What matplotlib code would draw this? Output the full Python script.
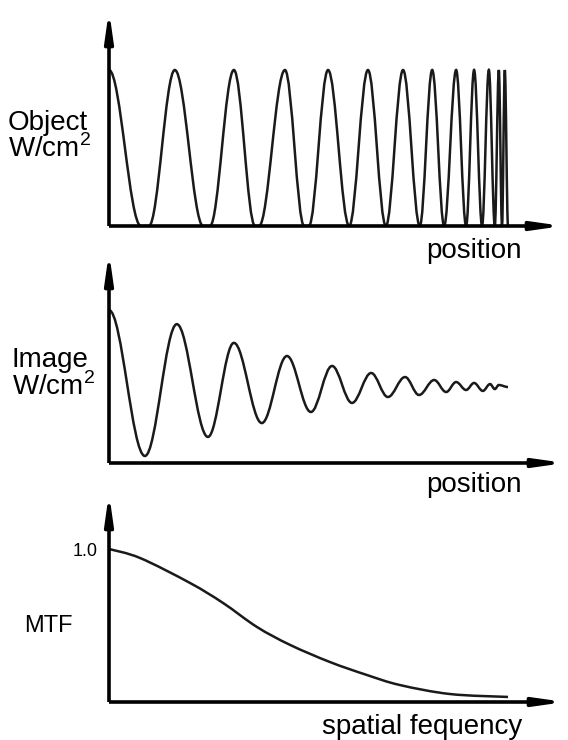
import matplotlib
matplotlib.use("Agg")
import matplotlib.pyplot as plt
from matplotlib.path import Path
from matplotlib.patches import PathPatch

plt.rcParams['font.family'] = ['Liberation Sans', 'DejaVu Sans']
plt.rcParams['mathtext.fontset'] = 'custom'
plt.rcParams['mathtext.rm'] = 'Liberation Sans'

# Object: maxima / minima of the chirped test pattern (position 0..1, W/cm2 peak = 1)
obj_pos = [0, 0.080, 0.100, 0.165, 0.236, 0.253, 0.313, 0.366, 0.376, 0.441,
           0.489, 0.501, 0.549, 0.602, 0.649, 0.694, 0.737, 0.779, 0.810, 0.840,
           0.870, 0.895, 0.915, 0.935, 0.952, 0.967, 0.977, 0.985, 0.992, 1.0]
obj_val = [1, 0, 0, 1, 0, 0, 1, 0, 0, 1,
           0, 0, 1, 0, 1, 0, 1, 0, 1, 0,
           1, 0, 1, 0, 1, 0, 1, 0, 1, 0]

# Image: maxima / minima of the blurred pattern
img_pos = [0, 0.090, 0.170, 0.248, 0.313, 0.383, 0.446, 0.506, 0.559, 0.609,
           0.657, 0.699, 0.742, 0.777, 0.815, 0.845, 0.870, 0.895, 0.915, 0.937,
           0.955, 0.967, 0.977, 1.0]
img_val = [0.98, 0.045, 0.89, 0.167, 0.77, 0.256, 0.686, 0.327, 0.622, 0.385,
           0.577, 0.423, 0.551, 0.436, 0.532, 0.455, 0.519, 0.468, 0.513, 0.462,
           0.506, 0.474, 0.50, 0.487]

# MTF vs spatial frequency
freq = [0, 0.078, 0.203, 0.286, 0.371, 0.454, 0.554, 0.647, 0.729, 0.855, 1.0]
mtf = [1.0, 0.941, 0.778, 0.647, 0.490, 0.373, 0.261, 0.176, 0.111, 0.052, 0.033]

W, H = 568, 740
fig = plt.figure(figsize=(W / 100, H / 100), dpi=100)


def px_axes(left, right, top, bottom):
    return fig.add_axes([left / W, 1 - bottom / H, (right - left) / W, (bottom - top) / H])


def wave_path(xs, ys, k=0.363):
    # half-cosine like bezier between consecutive extrema (flat tangents)
    verts = [(xs[0], ys[0])]
    codes = [Path.MOVETO]
    for i in range(1, len(xs)):
        dx = xs[i] - xs[i - 1]
        verts += [(xs[i - 1] + k * dx, ys[i - 1]), (xs[i] - k * dx, ys[i]), (xs[i], ys[i])]
        codes += [Path.CURVE4] * 3
    return Path(verts, codes)


def smooth_path(xs, ys):
    # catmull-rom through the read points
    verts = [(xs[0], ys[0])]
    codes = [Path.MOVETO]
    n = len(xs)
    for i in range(n - 1):
        x0, y0 = xs[max(i - 1, 0)], ys[max(i - 1, 0)]
        x1, y1 = xs[i], ys[i]
        x2, y2 = xs[i + 1], ys[i + 1]
        x3, y3 = xs[min(i + 2, n - 1)], ys[min(i + 2, n - 1)]
        verts += [(x1 + (x2 - x0) / 6, y1 + (y2 - y0) / 6),
                  (x2 - (x3 - x1) / 6, y2 - (y3 - y1) / 6), (x2, y2)]
        codes += [Path.CURVE4] * 3
    return Path(verts, codes)


def arrow_axes(ax):
    for tip in [(1, 0), (0, 1)]:
        ax.annotate('', xy=tip, xytext=(0, 0), xycoords='axes fraction',
                    arrowprops=dict(arrowstyle='-|>,head_length=1.7,head_width=0.24',
                                    lw=2.6, color='black', shrinkA=0, shrinkB=0,
                                    mutation_scale=10, capstyle='butt'),
                    annotation_clip=False)
    for s in ax.spines.values():
        s.set_visible(False)
    ax.set_xticks([])
    ax.set_yticks([])
    ax.patch.set_alpha(0)


unit = 399  # px per position unit

# panel 1: object
ax1 = px_axes(109, 563, 10, 226)
ax1.set_xlim(0, (563 - 109) / unit)
ax1.set_ylim(0, (226 - 10) / 156)
ax1.add_patch(PathPatch(wave_path(obj_pos, obj_val), fill=False, lw=1.8, color='#1a1a1a'))
arrow_axes(ax1)

# panel 2: image
ax2 = px_axes(109, 565, 252, 463)
ax2.set_xlim(0, (565 - 109) / unit)
ax2.set_ylim(0, (463 - 252) / 156)
ax2.add_patch(PathPatch(wave_path(img_pos, img_val), fill=False, lw=1.8, color='#1a1a1a'))
arrow_axes(ax2)

# panel 3: MTF
ax3 = px_axes(109, 565, 493, 702)
ax3.set_xlim(0, (565 - 109) / unit)
ax3.set_ylim(0, (702 - 493) / 153)
ax3.add_patch(PathPatch(smooth_path(freq, mtf), fill=False, lw=1.8, color='#1a1a1a'))
arrow_axes(ax3)
ax3.set_yticks([1.0])
ax3.set_yticklabels(['1.0'])
ax3.tick_params(axis='y', length=0, pad=8, labelsize=13)


def ftext(x, y, s, **kw):
    fig.text(x / W, 1 - y / H, s, **kw)


ftext(8, 130, 'Object', fontsize=20, va='baseline')
ftext(8, 157, 'W/cm$^\\mathrm{2}$', fontsize=20, va='baseline')
ftext(12, 367, 'Image', fontsize=20, va='baseline')
ftext(12, 395, 'W/cm$^\\mathrm{2}$', fontsize=20, va='baseline')
ftext(24, 632, 'MTF', fontsize=17, va='baseline')
ftext(522, 258, 'position', fontsize=20, va='baseline', ha='right')
ftext(522, 492, 'position', fontsize=20, va='baseline', ha='right')
ftext(522, 734, 'spatial fequency', fontsize=20, va='baseline', ha='right')

fig.savefig('out.png', dpi=100, facecolor='white')
